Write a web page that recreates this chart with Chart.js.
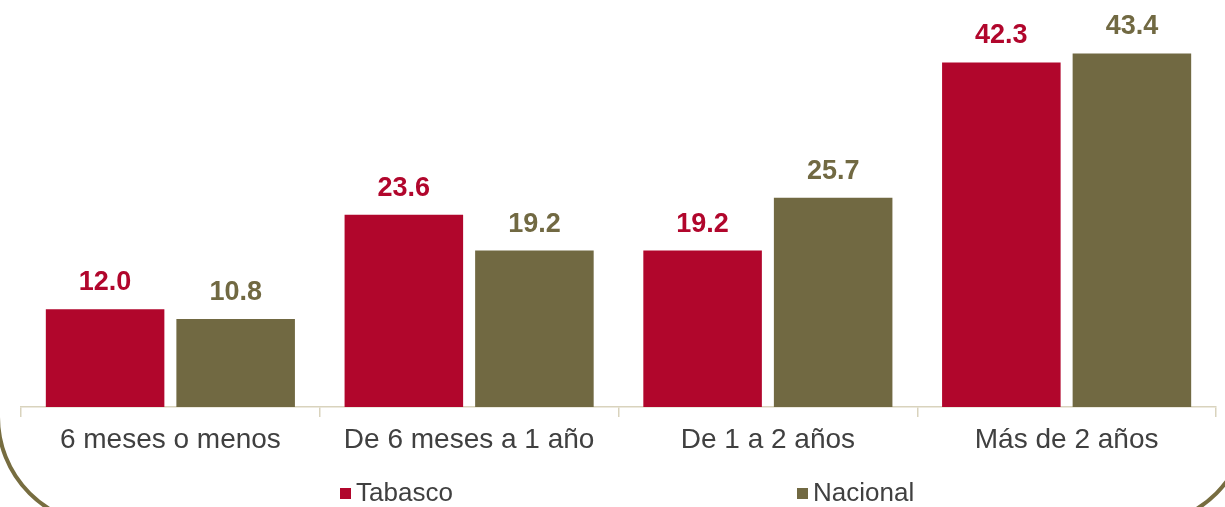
<!DOCTYPE html>
<html>
<head>
<meta charset="utf-8">
<script src="https://cdn.jsdelivr.net/npm/chart.js@4/dist/chart.umd.min.js"></script>
<style>
    html, body { margin: 0; padding: 0; background: #fff; overflow: hidden; }
    #wrap { position: relative; width: 1225px; height: 507px; overflow: hidden; }
    #frame {
        position: absolute; left: -4px; top: -300px; width: 1254px; height: 827px;
        border: 4px solid #776d40; border-radius: 110px; box-sizing: border-box;
    }
    canvas { position: absolute; left: 0; top: 0; }
</style>
</head>
<body>
<div id="wrap">
    <div id="frame"></div>
    <canvas id="chart" width="1225" height="507"></canvas>
</div>
<script>
const categories = ["6 meses o menos", "De 6 meses a 1 año", "De 1 a 2 años", "Más de 2 años"];
const tabasco = [12.0, 23.6, 19.2, 42.3];
const nacional = [10.8, 19.2, 25.7, 43.4];
const seriesNames = ["Tabasco", "Nacional"];

const red = "#b1062c";
const olive = "#716942";

// etiquetas de valor arriba de cada barra
const valueLabels = {
    id: "valueLabels",
    afterDatasetsDraw(chart) {
        const ctx = chart.ctx;
        ctx.save();
        ctx.font = "bold 27px 'Liberation Sans', Arial, sans-serif";
        ctx.textAlign = "center";
        ctx.textBaseline = "alphabetic";
        chart.data.datasets.forEach((ds, i) => {
            chart.getDatasetMeta(i).data.forEach((bar, j) => {
                ctx.fillStyle = ds.backgroundColor;
                ctx.fillText(ds.data[j].toFixed(1), bar.x, bar.y - 19);
            });
        });
        ctx.restore();
    }
};

// leyenda separada, como en el original
const spreadLegend = {
    id: "spreadLegend",
    afterDraw(chart) {
        const ctx = chart.ctx;
        const xs = [340, 797];
        const y = 494;
        ctx.save();
        ctx.font = "26px 'Liberation Sans', Arial, sans-serif";
        ctx.textBaseline = "middle";
        chart.data.datasets.forEach((ds, i) => {
            ctx.fillStyle = ds.backgroundColor;
            ctx.fillRect(xs[i], y - 6, 11, 11);
            ctx.fillStyle = "#404040";
            ctx.fillText(ds.label, xs[i] + 16, y);
        });
        ctx.restore();
    }
};

new Chart(document.getElementById("chart"), {
    type: "bar",
    data: {
        labels: categories,
        datasets: [
            { label: seriesNames[0], data: tabasco, backgroundColor: red },
            { label: seriesNames[1], data: nacional, backgroundColor: olive }
        ]
    },
    options: {
        responsive: false,
        animation: false,
        events: [],
        categoryPercentage: 0.874,
        barPercentage: 0.908,
        layout: { padding: { top: 16, left: 21, right: 9, bottom: 0 } },
        plugins: { legend: { display: false }, tooltip: { enabled: false } },
        scales: {
            x: {
                grid: { drawOnChartArea: false, drawTicks: true, tickLength: 10, color: "#d9d3bd", lineWidth: 1.5 },
                border: { color: "#d9d3bd", width: 1.5 },
                ticks: {
                    color: "#404040",
                    padding: 6,
                    font: { family: "'Liberation Sans', Arial, sans-serif", size: 28 }
                },
                afterFit(scale) { scale.height = 100; }
            },
            y: { display: false, min: 0, max: 48 }
        }
    },
    plugins: [valueLabels, spreadLegend]
});
</script>
</body>
</html>
